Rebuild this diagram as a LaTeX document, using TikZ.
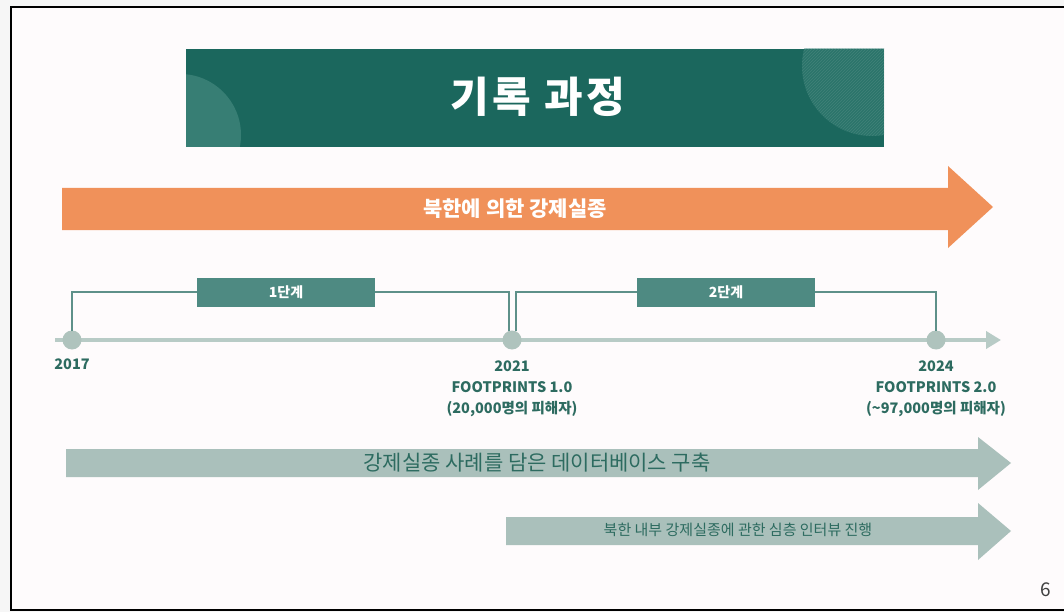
\documentclass[tikz,border=0pt]{standalone}
\usepackage{fontspec}
\setmainfont{Noto Sans CJK KR}
\newfontfamily\kr{Noto Sans CJK KR}
\newfontfamily\krspaced[LetterSpace=8]{Noto Sans CJK KR}
\usetikzlibrary{arrows.meta,patterns}
\definecolor{outbg}{HTML}{F6F6F6}
\definecolor{inbg}{HTML}{FEFBFC}
\definecolor{banner}{HTML}{1B675D}
\definecolor{bannerlight}{HTML}{3F847A}
\definecolor{orangea}{HTML}{F0915A}
\definecolor{grayarrow}{HTML}{AAC0BB}
\definecolor{tline}{HTML}{B8CBC6}
\definecolor{dot}{HTML}{AFC3BD}
\definecolor{brack}{HTML}{5E9089}
\definecolor{stagebox}{HTML}{4E8A82}
\definecolor{tealtext}{HTML}{2D6B60}
\tikzset{
  stagebox/.style={draw=none,fill=stagebox,text=white,font=\kr\bfseries\fontsize{14}{16}\selectfont,minimum width=178pt,minimum height=29pt,inner sep=0pt},
  tdot/.style={circle,fill=dot,minimum size=19pt,inner sep=0pt},
  bracket/.style={draw=brack,line width=2pt},
  yearlbl/.style={text=tealtext,font=\kr\bfseries\fontsize{14.5}{21}\selectfont,align=center},
}
\begin{document}
\begin{tikzpicture}[x=1pt,y=-1pt]
\useasboundingbox (0,0) rectangle (1064,612);
\fill[outbg] (0,0) rectangle (1064,612);
\fill[inbg] (11,7) rectangle (1064,610);
\draw[black,line width=1.2pt] (1064,7) -- (11,7) -- (11,610) -- (1064,610);
% banner
\fill[banner] (186,49) rectangle (884,147);
\begin{scope}
\clip (186,49) rectangle (884,147);
\fill[bannerlight,opacity=0.8] (180,135) circle (61);
\fill[bannerlight,opacity=0.45] (872,66) circle (70);
\fill[pattern=north east lines,pattern color=banner!60!white,opacity=0.3] (872,66) circle (70);
\end{scope}
\node[text=white,font=\krspaced\bfseries\fontsize{42}{46}\selectfont] (title) at (538,97) {기록 과정};
% orange arrow
\fill[orangea] (62,188) -- (948,188) -- (948,166) -- (993,207) -- (948,248) -- (948,230) -- (62,230) -- cycle;
\node[text=white,font=\kr\bfseries\fontsize{21}{24}\selectfont] (orangetxt) at (515,209) {북한에 의한 강제실종};
% timeline
\coordinate (tstart) at (55,340);
\coordinate (tend) at (1001,340);
\draw[tline,line width=4pt,-{Triangle[width=17pt,length=15pt]}] (tstart) -- (tend);
\node[tdot] (d2017) at (72,340) {};
\node[tdot] (d2021) at (512,340) {};
\node[tdot] (d2024) at (936,340) {};
% brackets
\coordinate (b1a) at (72,331);
\coordinate (b1b) at (72,292);
\coordinate (b1c) at (509,292);
\coordinate (b1d) at (509,331);
\draw[bracket] (b1a) -- (b1b) -- (b1c) -- (b1d);
\coordinate (b2a) at (516,331);
\coordinate (b2b) at (516,292);
\coordinate (b2c) at (936,292);
\coordinate (b2d) at (936,331);
\draw[bracket] (b2a) -- (b2b) -- (b2c) -- (b2d);
\node[stagebox] (s1) at (286,292) {1단계};
\node[stagebox] (s2) at (726,292) {2단계};
% labels
\node[yearlbl] (l2017) at (72,364) {2017};
\node[yearlbl] (l2021) at (512,389) {2021\\FOOTPRINTS 1.0\\(20,000명의 피해자)};
\node[yearlbl] (l2024) at (936,389) {2024\\FOOTPRINTS 2.0\\(\textasciitilde97,000명의 피해자)};
% gray arrows
\fill[grayarrow] (66,449) -- (978,449) -- (978,437) -- (1011,463) -- (978,490) -- (978,477) -- (66,477) -- cycle;
\node[text=tealtext,font=\kr\fontsize{21}{24}\selectfont] (dbtxt) at (537,463) {강제실종 사례를 담은 데이터베이스 구축};
\fill[grayarrow] (506,517) -- (978,517) -- (978,503) -- (1011,531) -- (978,560) -- (978,545) -- (506,545) -- cycle;
\node[text=tealtext,font=\kr\fontsize{15}{17}\selectfont] (ivtxt) at (738,530) {북한 내부 강제실종에 관한 심층 인터뷰 진행};
% page number
\node[text=black!75,font=\kr\fontsize{19}{21}\selectfont] (pg) at (1046,590) {6};
\end{tikzpicture}
\end{document}
